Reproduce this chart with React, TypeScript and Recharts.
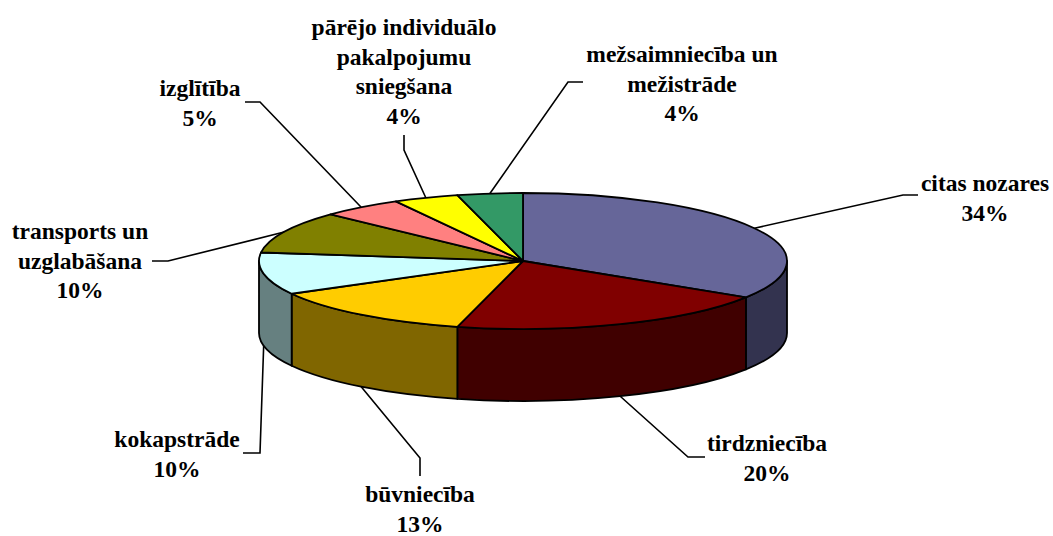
import React from 'react';
import { PieChart, Pie, Cell } from 'recharts';

// ---- data ----
const categories = [
  'citas nozares',
  'tirdzniecība',
  'būvniecība',
  'kokapstrāde',
  'transports un uzglabāšana',
  'izglītība',
  'pārējo individuālo pakalpojumu sniegšana',
  'mežsaimniecība un mežistrāde',
];
const shares = [34, 20, 13, 10, 10, 5, 4, 4];
const labelLines = [
  ['citas nozares'],
  ['tirdzniecība'],
  ['būvniecība'],
  ['kokapstrāde'],
  ['transports un', 'uzglabāšana'],
  ['izglītība'],
  ['pārējo individuālo', 'pakalpojumu', 'sniegšana'],
  ['mežsaimniecība un', 'mežistrāde'],
];
const topColors = ['#666699', '#800000', '#FFCC00', '#CCFFFF', '#808000', '#FF8080', '#FFFF00', '#339966'];
const sideColors = ['#33334F', '#400000', '#806600', '#668080', '#404000', '#804040', '#808000', '#1A4D33'];

// label text placement (text centre x, first line centre y), leader end point and stub vector
const labelLayout = [
  { tx: 985, ty: 183, ex: 918, ey: 195, sx: -15, sy: 0 },
  { tx: 767, ty: 443, ex: 705, ey: 457, sx: -17, sy: 0 },
  { tx: 420, ty: 494, ex: 420, ey: 476, sx: 0, sy: -18 },
  { tx: 177, ty: 439, ex: 243, ey: 453, sx: 17, sy: 0 },
  { tx: 80, ty: 231, ex: 152, ey: 261, sx: 16, sy: 0 },
  { tx: 200, ty: 88, ex: 245, ey: 102, sx: 15, sy: 0 },
  { tx: 404, ty: 27, ex: 404, ey: 135, sx: 0, sy: 15 },
  { tx: 682, ty: 54, ex: 583, ey: 82, sx: -15, sy: 0 },
];

const data = categories.map((name, i) => ({ name, value: shares[i] }));

// ---- geometry ----
const TILT = 68 / 264;
const DEPTH = 72;
const RAD = Math.PI / 180;
const LINE_H = 29.5;
const FONT = '"Liberation Serif", "Times New Roman", "DejaVu Serif", serif';

function ept(cx: number, cy: number, rx: number, ry: number, a: number) {
  return [cx + rx * Math.cos(-a * RAD), cy + ry * Math.sin(-a * RAD)];
}

function TopShape(props: any) {
  const { cx, cy, outerRadius, startAngle, endAngle, fill } = props;
  const rx = outerRadius;
  const ry = rx * TILT;
  const [x1, y1] = ept(cx, cy, rx, ry, startAngle);
  const [x2, y2] = ept(cx, cy, rx, ry, endAngle);
  const large = Math.abs(startAngle - endAngle) > 180 ? 1 : 0;
  const sweep = startAngle > endAngle ? 1 : 0;
  const d = `M${cx},${cy} L${x1},${y1} A${rx},${ry} 0 ${large} ${sweep} ${x2},${y2} Z`;
  return <path d={d} fill={fill} stroke="#000" strokeWidth={1.8} strokeLinejoin="round" />;
}

function SideShape(props: any) {
  const { cx, cy, outerRadius, startAngle, endAngle, fill } = props;
  const rx = outerRadius;
  const ry = rx * TILT;
  const lo = Math.max(Math.min(startAngle, endAngle), -180);
  const hi = Math.min(Math.max(startAngle, endAngle), 0);
  if (hi <= lo) return <g />;
  const [xh, yh] = ept(cx, cy, rx, ry, hi);
  const [xl, yl] = ept(cx, cy, rx, ry, lo);
  const d = `M${xh},${yh} A${rx},${ry} 0 0 1 ${xl},${yl} L${xl},${yl + DEPTH} A${rx},${ry} 0 0 0 ${xh},${yh + DEPTH} Z`;
  return <path d={d} fill={fill} stroke="#000" strokeWidth={1.8} strokeLinejoin="round" />;
}

function renderLabel(props: any) {
  const { cx, cy, midAngle, outerRadius, index, percent } = props;
  const rx = outerRadius;
  const ry = rx * TILT;
  let [ax, ay] = ept(cx, cy, rx, ry, midAngle);
  if (Math.sin(-midAngle * RAD) > 0) ay += DEPTH;
  const L = labelLayout[index];
  const lines = [...labelLines[index], `${Math.round(percent * 100)}%`];
  return (
    <g key={`lbl-${index}`}>
      <polyline
        points={`${ax},${ay} ${L.ex + L.sx},${L.ey + L.sy} ${L.ex},${L.ey}`}
        fill="none"
        stroke="#000"
        strokeWidth={1.6}
      />
      {lines.map((t, i) => (
        <text
          key={i}
          x={L.tx}
          y={L.ty + i * LINE_H}
          textAnchor="middle"
          dominantBaseline="central"
          style={{ fontFamily: FONT, fontWeight: 700, fontSize: 23.5 }}
          fill="#000"
        >
          {t}
        </text>
      ))}
    </g>
  );
}

export default function App() {
  return (
    <div style={{ position: 'absolute', left: 0, top: 0, width: 1053, height: 536, background: '#fff' }}>
      <PieChart width={1053} height={536} margin={{ top: 0, right: 0, bottom: 0, left: 0 }}>
        <Pie
          data={data}
          dataKey="value"
          nameKey="name"
          cx={523}
          cy={261}
          outerRadius={264}
          startAngle={90}
          endAngle={-270}
          stroke="none"
          isAnimationActive={false}
          shape={SideShape}
          labelLine={false}
        >
          {data.map((d, i) => (
            <Cell key={d.name} fill={sideColors[i]} />
          ))}
        </Pie>
        <Pie
          data={data}
          dataKey="value"
          nameKey="name"
          cx={523}
          cy={261}
          outerRadius={264}
          startAngle={90}
          endAngle={-270}
          stroke="none"
          isAnimationActive={false}
          shape={TopShape}
          labelLine={false}
          label={renderLabel}
        >
          {data.map((d, i) => (
            <Cell key={d.name} fill={topColors[i]} />
          ))}
        </Pie>
      </PieChart>
    </div>
  );
}
